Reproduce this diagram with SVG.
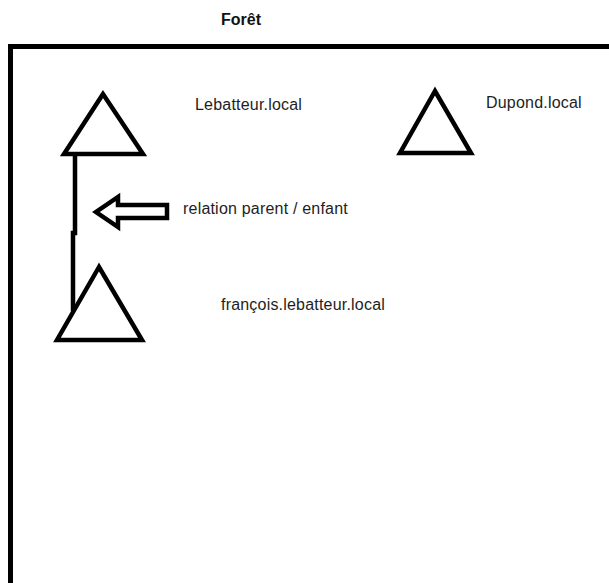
<svg xmlns="http://www.w3.org/2000/svg" width="609" height="583" viewBox="0 0 609 583">
<style>
.shape{fill:none;stroke:#000;stroke-width:4.5;stroke-linejoin:miter}
.lbl{font-family:"Liberation Sans",Arial,sans-serif;font-size:16px;letter-spacing:0.2px;fill:#1e1e1e}
.title{font-family:"Liberation Sans",Arial,sans-serif;font-size:16px;font-weight:bold;fill:#111}
</style>
<rect width="609" height="583" fill="#fff"/>
<g id="foret">
<path d="M10.5,590 V46.5 H615" fill="none" stroke="#000" stroke-width="5"/>
<text class="title" x="221" y="25">Forêt</text>
</g>
<g id="connectors">
<polyline class="shape" points="75,154 75,233 73,233 73,311"/>
<path id="arrow" class="shape" stroke-width="3.5" d="M167,205 H118 V197 L96,212 L118,227 V218 H167 Z"/>
<text class="lbl" x="183" y="214">relation parent / enfant</text>
</g>
<g id="lebatteur">
<polygon class="shape" points="103,94 64,154 143,154"/>
<text class="lbl" x="195" y="110">Lebatteur.local</text>
</g>
<g id="dupond">
<polygon class="shape" points="435,91 400,153 471,153"/>
<text class="lbl" x="486" y="108">Dupond.local</text>
</g>
<g id="francois">
<polygon class="shape" points="99,267 57,340 142,340"/>
<text class="lbl" x="221" y="310">françois.lebatteur.local</text>
</g>
</svg>
